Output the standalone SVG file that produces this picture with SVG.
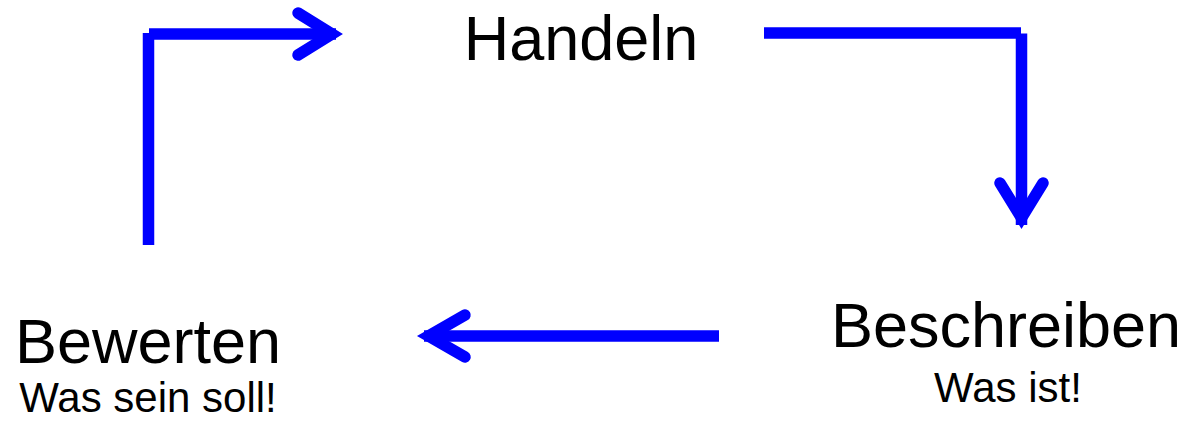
<svg xmlns="http://www.w3.org/2000/svg" width="1188" height="422" viewBox="0 0 1188 422">
<style>
.big{font-family:"Liberation Sans",Arial,sans-serif;font-size:63px;fill:#000;text-anchor:middle}
.small{font-family:"Liberation Sans",Arial,sans-serif;font-size:42px;fill:#000;text-anchor:middle}
.ln{fill:none;stroke:#0000ff;stroke-width:11.5;stroke-linecap:butt}
.hd{fill:none;stroke:#0000ff;stroke-width:11.5;stroke-linecap:round;stroke-linejoin:miter;stroke-miterlimit:10}
</style>
<rect width="1188" height="422" fill="#fff"/>
<g id="connectors">
<g id="c-bewerten-handeln">
<line class="ln" x1="148.5" y1="245" x2="148.5" y2="33"/>
<line class="ln" x1="149" y1="34" x2="336" y2="34"/>
<path class="hd" d="M298,13 L332,34 L298,55"/>
</g>
<g id="c-handeln-beschreiben">
<line class="ln" x1="764" y1="33" x2="1021" y2="33"/>
<line class="ln" x1="1021.5" y1="33.5" x2="1021.5" y2="225"/>
<path class="hd" d="M1000,183 L1021.5,218 L1043,183"/>
</g>
<g id="c-beschreiben-bewerten">
<line class="ln" x1="719" y1="336" x2="424" y2="336"/>
<path class="hd" d="M465,315 L428.5,336 L465,357"/>
</g>
</g>
<g id="handeln"><text class="big" x="581" y="60">Handeln</text></g>
<g id="bewerten"><text class="big" x="148" y="363">Bewerten</text><text class="small" x="148" y="412">Was sein soll!</text></g>
<g id="beschreiben"><text class="big" x="1006" y="347">Beschreiben</text><text class="small" x="1008" y="402">Was ist!</text></g>
</svg>
